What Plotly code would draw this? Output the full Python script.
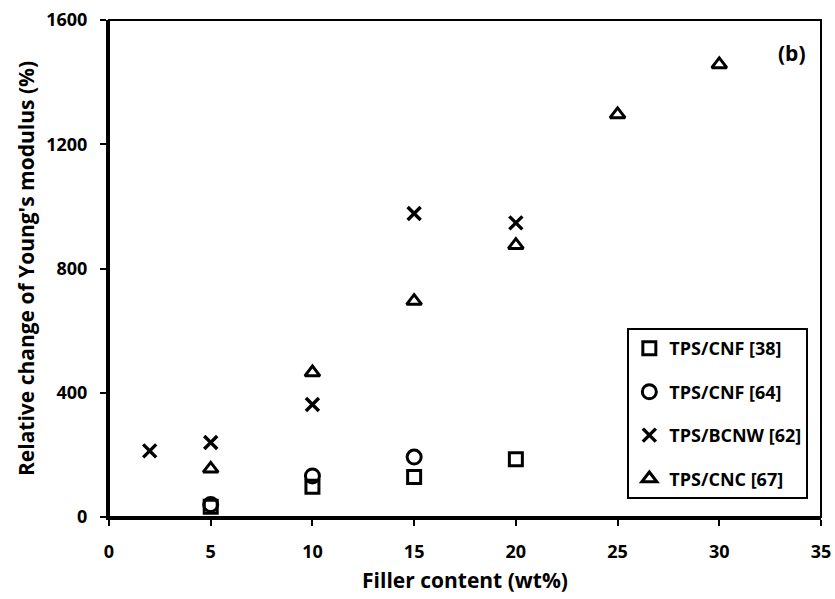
import plotly.graph_objects as go

# Data
cnf38_x = [5, 10, 15, 20]
cnf38_y = [33, 97, 129, 186]
cnf64_x = [5, 10, 15]
cnf64_y = [40, 132, 193]
bcnw_x = [2, 5, 10, 15, 20]
bcnw_y = [213, 240, 362, 977, 947]
cnc_x = [5, 10, 15, 20, 25, 30]
cnc_y = [155, 465, 695, 875, 1296, 1457]

names = ["TPS/CNF [38]", "TPS/CNF [64]", "TPS/BCNW [62]", "TPS/CNC [67]"]
x_ticks = [0, 5, 10, 15, 20, 25, 30, 35]
y_ticks = [0, 400, 800, 1200, 1600]

FONT = "Open Sans"
fig = go.Figure()
fig.add_trace(go.Scatter(x=cnf38_x, y=cnf38_y, mode="markers", name=names[0], legendgroup="a",
                         marker=dict(symbol="square-open", size=13, color="black", line=dict(width=3, color="black"))))
fig.add_trace(go.Scatter(x=cnf64_x, y=cnf64_y, mode="markers", name=names[1], legendgroup="b",
                         marker=dict(symbol="circle-open", size=14, color="black", line=dict(width=3, color="black"))))
fig.add_trace(go.Scatter(x=bcnw_x, y=bcnw_y, mode="markers", name=names[2], legendgroup="c",
                         marker=dict(symbol="x-thin", size=13, color="black", line=dict(width=3.4, color="black"))))
fig.add_trace(go.Scatter(x=cnc_x, y=cnc_y, mode="markers", name=names[3], legendgroup="d",
                         marker=dict(symbol="triangle-up-open", size=13, color="black", line=dict(width=3, color="black"))))

fig.update_layout(
    width=835, height=599,
    margin=dict(l=109, r=14, t=20, b=82),
    paper_bgcolor="white", plot_bgcolor="white",
    font=dict(family=FONT, color="black"),
    showlegend=True,
    legend=dict(x=0.728, y=0.38, xanchor="left", yanchor="top",
                bordercolor="black", borderwidth=2, bgcolor="white",
                font=dict(family=FONT, size=18, color="black", weight="bold"),
                tracegroupgap=17, itemwidth=30),
    xaxis=dict(range=[0, 35], tickvals=x_ticks, ticks="outside", ticklen=6, tickwidth=2,
               tickcolor="black", showgrid=False, zeroline=False, automargin=False,
               showline=True, linewidth=3, linecolor="black", ticklabelstandoff=10,
               tickfont=dict(family=FONT, size=18, color="black", weight="bold"),
               title=dict(text="Filler content (wt%)", standoff=12,
                          font=dict(family=FONT, size=21, color="black", weight="bold"))),
    yaxis=dict(range=[0, 1600], tickvals=y_ticks, ticks="outside", ticklen=6, tickwidth=2,
               tickcolor="black", showgrid=False, zeroline=False, automargin=False,
               showline=True, linewidth=3, linecolor="black", ticklabelstandoff=9,
               tickfont=dict(family=FONT, size=18, color="black", weight="bold"),
               title=dict(text="Relative change of Young's modulus (%)", standoff=6,
                          font=dict(family=FONT, size=21, color="black", weight="bold"))),
    shapes=[dict(type="rect", xref="paper", yref="paper", x0=0, y0=0, x1=1, y1=1,
                 line=dict(color="black", width=2), layer="above")],
    annotations=[dict(text="(b)", xref="paper", yref="paper", x=0.959, y=0.934,
                      xanchor="center", yanchor="middle", showarrow=False,
                      font=dict(family=FONT, size=21, color="black", weight="bold"))],
)

fig.write_html("out.html")
